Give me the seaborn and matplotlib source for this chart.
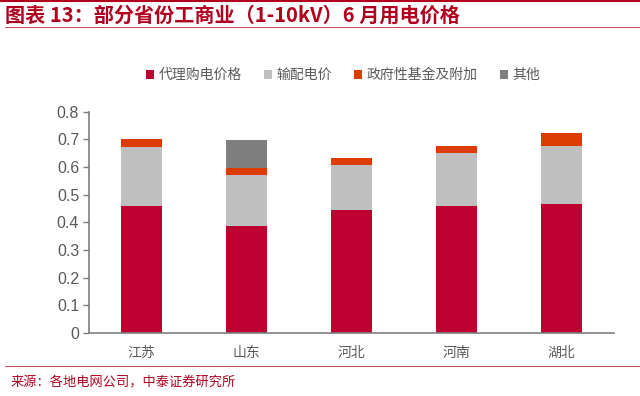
import numpy as np
import pandas as pd
import matplotlib
matplotlib.use('Agg')
import matplotlib.pyplot as plt
import seaborn as sns
from matplotlib.lines import Line2D
from matplotlib.patches import Patch

# 数据（从图上读取，单位：元/kWh）
provinces = ['江苏', '山东', '河北', '河南', '湖北']
series_names = ['代理购电价格', '输配电价', '政府性基金及附加', '其他']
proxy_price = [0.460, 0.387, 0.445, 0.460, 0.467]
transmission = [0.213, 0.183, 0.163, 0.190, 0.208]
gov_fund = [0.029, 0.027, 0.025, 0.026, 0.047]
other = [0.0, 0.102, 0.0, 0.0, 0.0]
colors = ['#BE0030', '#BFBFBF', '#DC3C00', '#7F7F7F']
ytick_vals = [0, 0.1, 0.2, 0.3, 0.4, 0.5, 0.6, 0.7, 0.8]
ytick_labels = ['0', '0.1', '0.2', '0.3', '0.4', '0.5', '0.6', '0.7', '0.8']

sns.set_style('white')
plt.rcParams['font.family'] = ['Noto Sans CJK SC', 'DejaVu Sans']

# 堆叠：按累计高度从高到低叠画
parts = [proxy_price, transmission, gov_fund, other]
cum = np.cumsum(np.array(parts), axis=0)
df = pd.DataFrame({'省份': provinces})
for name, c in zip(series_names, cum):
    df[name] = c

fig = plt.figure(figsize=(6.4, 3.96), dpi=100)
ax = fig.add_axes([0.139, 0.159, 0.820, 0.559])

for name, color in reversed(list(zip(series_names, colors))):
    sns.barplot(data=df, x='省份', y=name, color=color, ax=ax,
                width=0.39, saturation=1, errorbar=None, edgecolor='none')

ax.set_xlim(-0.5, 4.5)
ax.set_ylim(0, 0.8)
ax.set_yticks(ytick_vals)
ax.set_yticklabels(ytick_labels, fontsize=11.5, color='#595959',
                   family=['Liberation Sans', 'DejaVu Sans'])
ax.set_xlabel('')
ax.set_ylabel('')
ax.set_xticks(range(len(provinces)))
ax.set_xticklabels(provinces, fontsize=10, color='#595959')
ax.set_xticks(np.arange(-0.5, 5.0, 1.0), minor=True)
ax.tick_params(axis='x', which='major', length=0, pad=9)
ax.tick_params(axis='x', which='minor', length=4, color='#7F7F7F', width=1)
ax.tick_params(axis='y', length=4, color='#7F7F7F', width=1, left=True, pad=3)
for s in ['top', 'right']:
    ax.spines[s].set_visible(False)
for s in ['left', 'bottom']:
    ax.spines[s].set_color('#7F7F7F')
    ax.spines[s].set_linewidth(1.2)

handles = [Patch(facecolor=c, edgecolor='none') for c in colors]
fig.legend(handles, series_names, loc='center', bbox_to_anchor=(0.536, 0.81),
           ncol=4, frameon=False, fontsize=10, handlelength=0.6, handleheight=0.6,
           handletextpad=0.3, columnspacing=1.6, labelcolor='#595959')

# 标题与来源
red = '#B0001E'
fig.add_artist(Line2D([0, 1], [0.998, 0.998], color=red, lw=1.5))
fig.text(0.008, 0.962, '图表 13：部分省份工商业（1-10kV）6 月用电价格',
         fontsize=14.5, fontweight='bold', color=red, va='center', ha='left')
fig.add_artist(Line2D([0.008, 1], [0.932, 0.932], color='#C8505A', lw=0.8))
fig.add_artist(Line2D([0.008, 1], [0.076, 0.076], color='#C8505A', lw=0.8))
fig.text(0.016, 0.033, '来源：各地电网公司，中泰证券研究所',
         fontsize=9.5, color=red, va='center', ha='left')

fig.savefig('out.png', dpi=100)
